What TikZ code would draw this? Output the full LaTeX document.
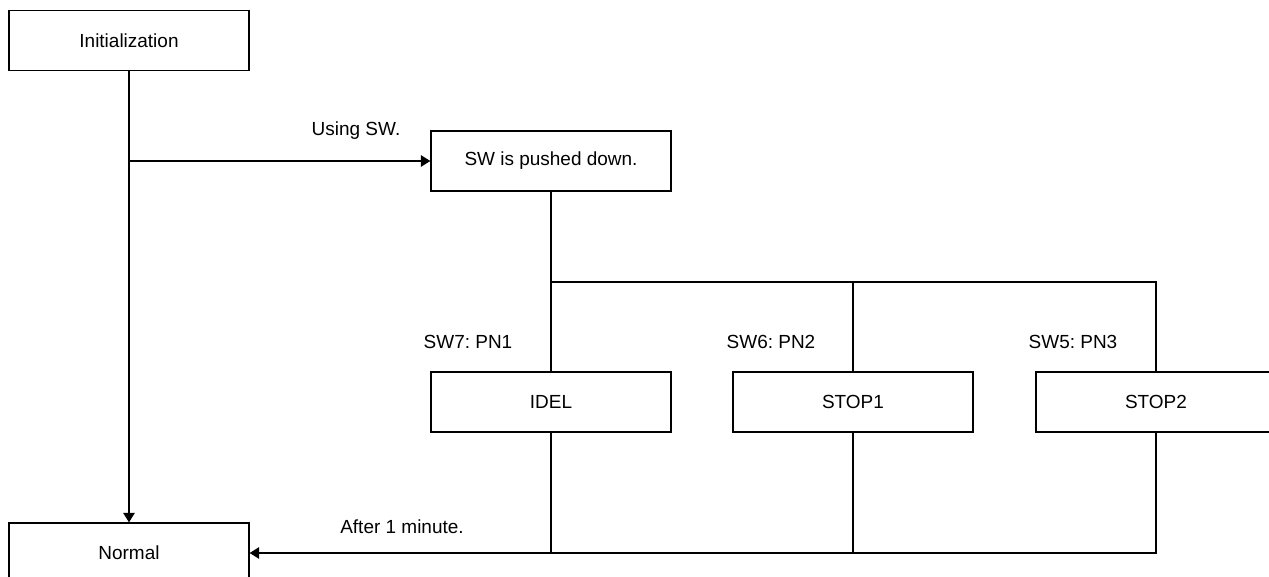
\documentclass[tikz,border=0pt]{standalone}
\usepackage{fontspec}
\setmainfont{Liberation Sans}
\usetikzlibrary{positioning, arrows.meta}
\frenchspacing

\begin{document}
\begin{tikzpicture}[
  x=0.02cm, y=-0.02cm,
  font=\fontsize{10.8pt}{13pt}\selectfont,
  line width=0.75pt,
  state/.style={draw, rectangle, minimum width=4.8cm, minimum height=1.2cm, inner sep=0pt, align=center},
  cond/.style={inner sep=0pt},
  arr/.style={-{Triangle[length=1.9mm, width=2.3mm]}}
]
\useasboundingbox (0,0) rectangle (1269,577);

% ---------- STATES ----------
\node[state] (init) at (129,40.5) {Initialization};
\node[state] (sw) at (551,161) {SW is pushed down.};
\node[state] (idel) at (551,402) {IDEL};
\node[state] (stop1) at (853,402) {STOP1};
\node[state] (stop2) at (1156,402) {STOP2};
\node[state] (normal) at (129,553) {Normal};

% ---------- CONDITIONS ----------
\node[cond] (using) at (356,131) {Using SW.};
\node[cond] (pn1) at (468,342) {SW7: PN1};
\node[cond] (pn2) at (771,342) {SW6: PN2};
\node[cond] (pn3) at (1073,342) {SW5: PN3};
\node[cond] (after) at (402,527) {After 1 minute.};

% ---------- CONNECTORS ----------
\coordinate (branch) at (init.south |- sw.west);
\coordinate (topbus) at (sw.south |- 0,282);

\draw[arr] (init) -- (normal);
\draw[arr] (branch) -- (sw.west);

\draw (sw.south) -- (topbus) -| (stop2.north);
\draw (topbus) -- (idel.north);
\draw (stop1.north) -- (stop1.north |- topbus);

\draw[arr] (stop2.south) |- (normal.east);
\draw (idel.south) -- (idel.south |- normal.east);
\draw (stop1.south) -- (stop1.south |- normal.east);

\end{tikzpicture}
\end{document}
